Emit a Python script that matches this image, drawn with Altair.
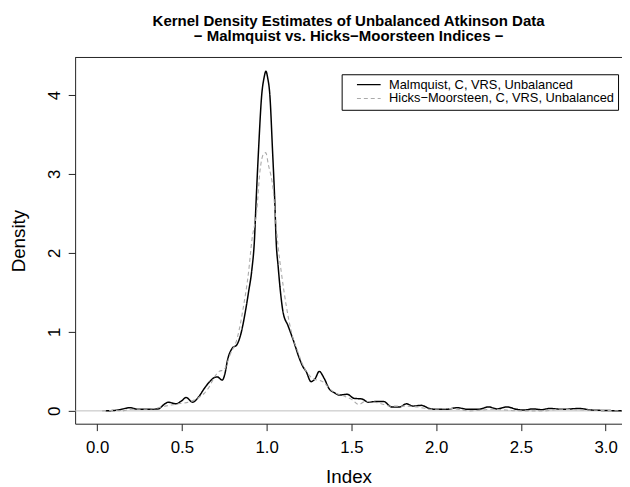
import altair as alt
import pandas as pd

# Malmquist, C, VRS, Unbalanced (solid black)
malm_x = [0.05, 0.12, 0.195, 0.24, 0.30, 0.36, 0.40, 0.42, 0.465, 0.50, 0.524, 0.563, 0.60, 0.631,
          0.66, 0.69, 0.709, 0.738, 0.757, 0.767, 0.796, 0.825, 0.845, 0.874, 0.893, 0.913, 0.928,
          0.938, 0.952, 0.971, 0.985, 0.996, 1.006, 1.019, 1.035, 1.048, 1.056, 1.068, 1.082, 1.097,
          1.126, 1.155, 1.194, 1.214, 1.233, 1.262, 1.287, 1.31, 1.34, 1.369, 1.40, 1.427, 1.476,
          1.514, 1.563, 1.60, 1.65, 1.689, 1.738, 1.786, 1.825, 1.864, 1.913, 1.961, 2.0, 2.06,
          2.126, 2.184, 2.25, 2.31, 2.359, 2.417, 2.475, 2.52, 2.572, 2.62, 2.67, 2.75, 2.845,
          2.92, 3.0, 3.1]
malm_y = [0.0, 0.01, 0.04, 0.02, 0.02, 0.025, 0.09, 0.11, 0.09, 0.13, 0.17, 0.11, 0.18, 0.28,
          0.36, 0.42, 0.43, 0.39, 0.50, 0.62, 0.79, 0.84, 0.95, 1.25, 1.50, 1.79, 2.16,
          2.66, 3.29, 4.0, 4.22, 4.30, 4.22, 4.0, 3.29, 2.66, 2.16, 1.83, 1.50, 1.25,
          1.08, 0.91, 0.66, 0.56, 0.50, 0.37, 0.41, 0.50, 0.41, 0.28, 0.23, 0.20, 0.21,
          0.16, 0.15, 0.11, 0.12, 0.12, 0.05, 0.05, 0.09, 0.06, 0.07, 0.03, 0.02, 0.02,
          0.04, 0.02, 0.02, 0.05, 0.025, 0.05, 0.02, 0.01, 0.025, 0.015, 0.03, 0.02, 0.03,
          0.01, 0.005, 0.0]

# Hicks-Moorsteen, C, VRS, Unbalanced (dashed grey)
hm_x = [0.03, 0.10, 0.15, 0.20, 0.30, 0.40, 0.48, 0.553, 0.60, 0.631, 0.66, 0.69, 0.72, 0.748,
        0.786, 0.825, 0.864, 0.893, 0.913, 0.942, 0.961, 0.981, 0.995, 1.01, 1.039, 1.058, 1.068,
        1.087, 1.116, 1.146, 1.184, 1.223, 1.272, 1.33, 1.388, 1.466, 1.505, 1.543, 1.582, 1.66,
        1.738, 1.81, 1.89, 1.97, 2.087, 2.2, 2.33, 2.5, 2.64, 2.72, 2.9, 3.1]
hm_y = [0.0, 0.005, 0.0, 0.02, 0.02, 0.06, 0.09, 0.12, 0.17, 0.22, 0.30, 0.42, 0.50, 0.52,
        0.72, 0.91, 1.33, 1.75, 2.16, 2.54, 3.04, 3.25, 3.27, 3.12, 2.79, 2.30, 2.08,
        1.75, 1.33, 1.0, 0.75, 0.54, 0.41, 0.37, 0.25, 0.18, 0.14, 0.08, 0.12, 0.10,
        0.06, 0.06, 0.05, 0.02, 0.03, 0.0, 0.02, 0.0, 0.0, 0.02, 0.01, 0.0]

series_names = ["Malmquist, C, VRS, Unbalanced", "Hicks\u2212Moorsteen, C, VRS, Unbalanced"]
x_ticks = [0.0, 0.5, 1.0, 1.5, 2.0, 2.5, 3.0]
y_ticks = [0, 1, 2, 3, 4]

df = pd.concat([
    pd.DataFrame({"x": malm_x, "y": malm_y, "series": series_names[0], "o": range(len(malm_x))}),
    pd.DataFrame({"x": hm_x, "y": hm_y, "series": series_names[1], "o": range(len(hm_x))}),
])

W, H = 554, 371
FONT = "Liberation Sans"

xscale = alt.Scale(domain=[-0.13, 3.097], nice=False, zero=False)
yscale = alt.Scale(domain=[-0.1625, 4.475], nice=False, zero=False)

base_x = alt.X("x:Q", scale=xscale,
               axis=alt.Axis(values=x_ticks, format=".1f", title="Index", grid=False,
                             tickSize=7, labelPadding=22, labelBaseline="alphabetic",
                             labelFontSize=17, titleFontSize=19, titleFontWeight="normal",
                             titleY=60, titleBaseline="alphabetic", labelFlush=False))
base_y = alt.Y("y:Q", scale=yscale,
               axis=alt.Axis(values=y_ticks, format="d", title="Density", grid=False,
                             tickSize=7, labelAngle=270, labelAlign="center",
                             labelBaseline="alphabetic", labelPadding=9,
                             labelFontSize=17, titleFontSize=19, titleFontWeight="normal",
                             titleX=-51, titleAngle=270, titleBaseline="alphabetic",
                             labelFlush=False))

zero_line = alt.Chart(pd.DataFrame({"y": [0]})).mark_rule(color="#bebebe", strokeWidth=1).encode(
    y=alt.Y("y:Q", scale=yscale)
)

lines = alt.Chart(df).mark_line(clip=True, interpolate="monotone").encode(
    x=base_x,
    y=base_y,
    order="o:Q",
    color=alt.Color("series:N", scale=alt.Scale(domain=series_names, range=["#000000", "#aaaaaa"]),
                    legend=alt.Legend(title=None)),
    strokeDash=alt.StrokeDash("series:N", scale=alt.Scale(domain=series_names, range=[[1, 0], [4, 3]]),
                              legend=alt.Legend(title=None)),
    strokeWidth=alt.StrokeWidth("series:N", scale=alt.Scale(domain=series_names, range=[1.5, 1.1]),
                                legend=None),
)

top_border = alt.Chart(pd.DataFrame({"a": [0]})).mark_rule(color="#222222", strokeWidth=1).encode(
    x=alt.value(0), x2=alt.value(W), y=alt.value(0)
)

chart = alt.layer(zero_line, lines, top_border).properties(
    width=W, height=H,
    autosize=alt.AutoSizeParams(type="none"),
    padding={"left": 68, "top": 47, "right": 0, "bottom": 61},
    title=alt.TitleParams(
        text=["Kernel Density Estimates of Unbalanced Atkinson Data",
              "\u2212 Malmquist vs. Hicks\u2212Moorsteen Indices \u2212"],
        fontSize=15.2, fontWeight="bold", font=FONT, anchor="middle", lineHeight=15.5,
        offset=13, color="#000000"),
).configure(font=FONT).configure_view(stroke=None).configure_axis(
    domainColor="#222222", tickColor="#222222", labelColor="#000000", titleColor="#000000",
    labelFont=FONT, titleFont=FONT,
).configure_legend(
    orient="none", legendX=270, legendY=17, strokeColor="#000000", fillColor="#ffffff",
    padding=4, labelFontSize=13, labelFont=FONT, labelColor="#000000", labelLimit=0,
    symbolType="M-6,0H6", symbolSize=16, symbolStrokeWidth=1.5, labelOffset=14,
    symbolOffset=17, rowPadding=-4, cornerRadius=0,
)

chart.save("out.html", embed_options={"renderer": "svg", "actions": False})
